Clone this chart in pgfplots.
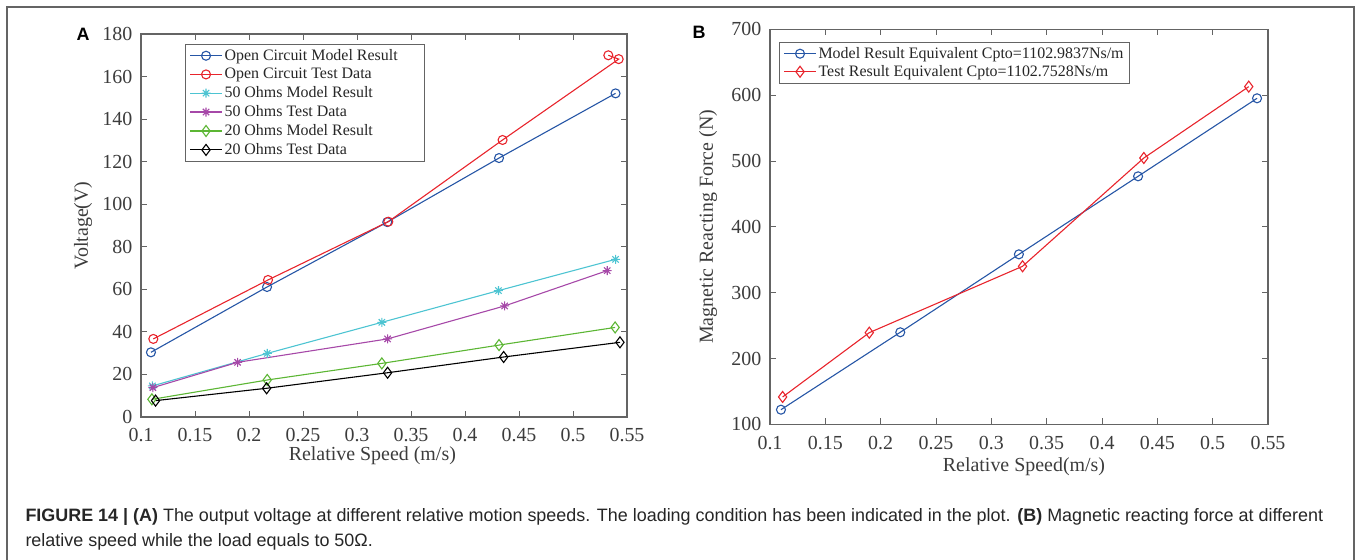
\documentclass[border=0pt]{standalone}
\usepackage{pgfplots}
\pgfplotsset{compat=1.18}
\usepackage{fontspec}
\setmainfont{Liberation Serif}
\newfontfamily\capfont{Liberation Sans}
\definecolor{mblue}{RGB}{38,86,166}
\definecolor{mred}{RGB}{232,36,44}
\definecolor{mcyan}{RGB}{77,196,210}
\definecolor{mpurple}{RGB}{166,72,168}
\definecolor{mgreen}{RGB}{92,182,52}
\definecolor{axgray}{RGB}{100,100,100}
\definecolor{txtgray}{RGB}{60,60,60}
\pgfdeclareplotmark{mstar}{%
  \pgfpathmoveto{\pgfqpoint{-\pgfplotmarksize}{0pt}}\pgfpathlineto{\pgfqpoint{\pgfplotmarksize}{0pt}}%
  \pgfpathmoveto{\pgfqpoint{0pt}{-\pgfplotmarksize}}\pgfpathlineto{\pgfqpoint{0pt}{\pgfplotmarksize}}%
  \pgfpathmoveto{\pgfqpoint{-0.707\pgfplotmarksize}{-0.707\pgfplotmarksize}}\pgfpathlineto{\pgfqpoint{0.707\pgfplotmarksize}{0.707\pgfplotmarksize}}%
  \pgfpathmoveto{\pgfqpoint{-0.707\pgfplotmarksize}{0.707\pgfplotmarksize}}\pgfpathlineto{\pgfqpoint{0.707\pgfplotmarksize}{-0.707\pgfplotmarksize}}%
  \pgfusepathqstroke}
\pgfplotsset{
  mstyle/.style={
    scale only axis,
    anchor=south west,
    xmin=0.1, xmax=0.55,
    xtick={0.1,0.15,0.2,0.25,0.3,0.35,0.4,0.45,0.5,0.55},
    xticklabels={0.1,0.15,0.2,0.25,0.3,0.35,0.4,0.45,0.5,0.55},
    tick align=inside,
    major tick length=6bp,
    axis line style={axgray, line width=1.1bp},
    tick style={axgray, line width=0.9bp},
    /pgf/number format/assume math mode=true,
    tick label style={font=\fontsize{20}{20}\selectfont, text=txtgray, inner sep=0.5bp},
    xticklabel style={yshift=-11bp},
    yticklabel style={xshift=-8bp},
    label style={font=\fontsize{20}{20}\selectfont, text=txtgray},
    legend cell align=left,
    legend image code/.code={\draw[mark repeat=2,mark phase=2] plot coordinates {(0bp,0bp)(16bp,0bp)(32bp,0bp)};},
    every axis plot/.append style={line width=1.1bp},
  }
}
\begin{document}
\begin{tikzpicture}
\useasboundingbox (0,0) rectangle (1362bp,-560bp);
\draw[axgray, line width=1.3bp] (7bp,-562bp) -- (7bp,-7bp) -- (1354bp,-7bp) -- (1354bp,-562bp);
\node[font=\capfont\bfseries\fontsize{18}{18}\selectfont, anchor=center] at (83bp,-34bp) {A};
\node[font=\capfont\bfseries\fontsize{18}{18}\selectfont, anchor=center] at (699bp,-32bp) {B};
\begin{axis}[mstyle,
  at={(141bp,-417bp)}, width=486bp, height=383bp,
  ymin=0, ymax=180, ytick={0,20,...,180},
  xlabel={Relative Speed (m/s)}, ylabel={Voltage(V)},
  xlabel style={at={(axis description cs:0.476,-0.102)}, anchor=center},
  ylabel style={at={(axis description cs:-0.119,0.5)}, anchor=center},
  legend style={at={(0.0905,0.974)}, anchor=north west, draw=axgray, line width=1bp,
    font=\fontsize{16}{18}\selectfont, text=black!85, inner xsep=4bp, inner ysep=3bp,
    row sep=2.4bp},
]
\addplot[mblue, mark=o, mark size=4.5bp] coordinates {(0.1092,30.4)(0.2167,61.1)(0.328,91.6)(0.4315,121.7)(0.5394,152.1)};
\addlegendentry{\makebox[194bp][l]{Open Circuit Model Result}}
\addplot[mred, mark=o, mark size=4.5bp] coordinates {(0.1114,36.7)(0.2176,64.4)(0.329,91.8)(0.4348,130.2)(0.5423,168.2)(0.5327,170.0)};
\addlegendentry{Open Circuit Test Data}
\addplot[mcyan, mark=mstar, mark size=4.5bp] coordinates {(0.1105,14.6)(0.2169,29.9)(0.323,44.5)(0.431,59.4)(0.5394,74.1)};
\addlegendentry{50 Ohms Model Result}
\addplot[mpurple, mark=mstar, mark size=4.5bp] coordinates {(0.111,13.8)(0.1894,25.7)(0.3283,36.7)(0.4367,52.2)(0.5317,68.8)};
\addlegendentry{50 Ohms Test Data}
\addplot[mgreen, mark=diamond, mark size=5.5bp] coordinates {(0.1101,8.3)(0.2169,17.4)(0.323,25.2)(0.4315,33.8)(0.539,42.1)};
\addlegendentry{20 Ohms Model Result}
\addplot[black, mark=diamond, mark size=5.5bp] coordinates {(0.1135,7.7)(0.2163,13.5)(0.3283,20.8)(0.4358,28.2)(0.5435,35.1)};
\addlegendentry{20 Ohms Test Data}
\end{axis}
\begin{axis}[mstyle,
  at={(770bp,-424.3bp)}, width=498bp, height=395bp,
  ymin=100, ymax=700, ytick={100,200,...,700},
  xlabel={Relative Speed(m/s)}, ylabel={Magnetic Reacting Force (N)},
  xlabel style={at={(axis description cs:0.51,-0.108)}, anchor=center},
  ylabel style={at={(axis description cs:-0.1245,0.5)}, anchor=center},
  legend style={at={(0.018,0.968)}, anchor=north west, draw=axgray, line width=1bp,
    font=\fontsize{16}{18}\selectfont, text=black!85, inner xsep=4bp, inner ysep=3bp,
    row sep=1.5bp},
]
\addplot[mblue, mark=o, mark size=4.5bp] coordinates {(0.1099,122.2)(0.2177,239.8)(0.3249,358.2)(0.4326,476.7)(0.5401,595.2)};
\addlegendentry{Model Result Equivalent Cpto=1102.9837Ns/m}
\addplot[mred, mark=diamond, mark size=5.5bp] coordinates {(0.1114,141.5)(0.1897,239.2)(0.3282,340)(0.4378,504.5)(0.5326,612.9)};
\addlegendentry{Test Result Equivalent Cpto=1102.7528Ns/m}
\end{axis}
\node[font=\capfont\fontsize{18}{18}\selectfont, anchor=base west, text=black!85] at (22bp,-521bp)
  {\textbf{FIGURE 14 | (A)} The output voltage at different relative motion speeds. The loading condition has been indicated in the plot. \textbf{(B)} Magnetic reacting force at different};
\node[font=\capfont\fontsize{18}{18}\selectfont, anchor=base west, text=black!85] at (22bp,-546bp)
  {relative speed while the load equals to 50Ω.};
\end{tikzpicture}
\end{document}
